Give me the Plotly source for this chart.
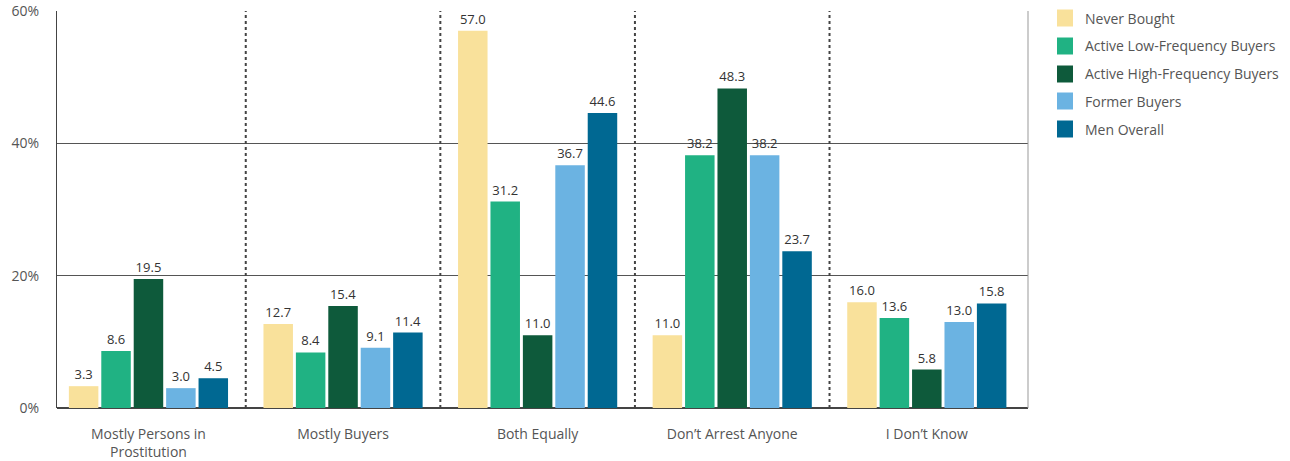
import plotly.graph_objects as go

categories = ["Mostly Persons in<br>Prostitution", "Mostly Buyers", "Both Equally",
              "Don’t Arrest Anyone", "I Don’t Know"]
series_names = ["Never Bought", "Active Low-Frequency Buyers", "Active High-Frequency Buyers",
                "Former Buyers", "Men Overall"]
never_bought = [3.3, 12.7, 57.0, 11.0, 16.0]
active_low = [8.6, 8.4, 31.2, 38.2, 13.6]
active_high = [19.5, 15.4, 11.0, 48.3, 5.8]
former_buyers = [3.0, 9.1, 36.7, 38.2, 13.0]
men_overall = [4.5, 11.4, 44.6, 23.7, 15.8]
y_ticks = [0, 20, 40, 60]

colors = ["#F9E19B", "#20B283", "#0E5A3B", "#6BB3E2", "#006892"]
series = [never_bought, active_low, active_high, former_buyers, men_overall]

W, H = 1290, 461
ML, MR, MT, MB = 57, 262, 11, 53
PW, PH = W - ML - MR, H - MT - MB
FONT = "Open Sans"

fig = go.Figure()
for name, vals, c in zip(series_names, series, colors):
    fig.add_trace(go.Bar(
        x=categories, y=vals, name=name, marker=dict(color=c, line=dict(width=0)),
        texttemplate="%{y:.1f}", textposition="outside", cliponaxis=False,
        textfont=dict(family=FONT, size=13, color="#333333"), showlegend=False,
    ))

shapes = []
# dotted category separators
for i in range(len(categories) - 1):
    shapes.append(dict(type="line", xref="x", yref="paper", x0=i + 0.5, x1=i + 0.5,
                       y0=0, y1=1, line=dict(color="#444444", width=2, dash="dot")))
# right frame edge
shapes.append(dict(type="line", xref="paper", yref="paper", x0=1, x1=1, y0=0, y1=1,
                   line=dict(color="#999999", width=1)))

# custom legend (squares + labels)
annotations = []
leg_px_x = 1057
leg_px_y = [18, 46, 74, 101, 129]
for name, c, py in zip(series_names, colors, leg_px_y):
    x0 = (leg_px_x - ML) / PW
    x1 = (leg_px_x + 16 - ML) / PW
    yc = (MT + PH - py) / PH
    shapes.append(dict(type="rect", xref="paper", yref="paper", x0=x0, x1=x1,
                       y0=yc - 8.5 / PH, y1=yc + 8.5 / PH,
                       fillcolor=c, line=dict(width=0)))
    annotations.append(dict(xref="paper", yref="paper", x=(leg_px_x + 26 - ML) / PW, y=yc,
                            text=name, showarrow=False, xanchor="left", yanchor="middle",
                            font=dict(family=FONT, size=14, color="#555555")))

fig.update_layout(
    width=W, height=H,
    margin=dict(l=ML, r=MR, t=MT, b=MB, autoexpand=False),
    paper_bgcolor="white", plot_bgcolor="white",
    barmode="group", bargap=0.167, bargroupgap=0.09,
    font=dict(family=FONT, size=14, color="#555555"),
    xaxis=dict(range=[-0.47, 4.52], showgrid=False, zeroline=False, showline=False,
               ticks="", ticklabelstandoff=16,
               tickfont=dict(family=FONT, size=14, color="#555555")),
    yaxis=dict(range=[0, 60], tickvals=y_ticks, ticktext=[f"{v}%" for v in y_ticks],
               showgrid=True, gridcolor="#555555", gridwidth=1,
               zeroline=True, zerolinecolor="#444444", zerolinewidth=2,
               showline=True, linecolor="#444444", linewidth=1, ticks="",
               ticklabelstandoff=14,
               tickfont=dict(family=FONT, size=14, color="#555555")),
    shapes=shapes, annotations=annotations,
)

fig.write_html("out.html", config={"displayModeBar": False},
               post_script="document.body.style.margin='0';")
